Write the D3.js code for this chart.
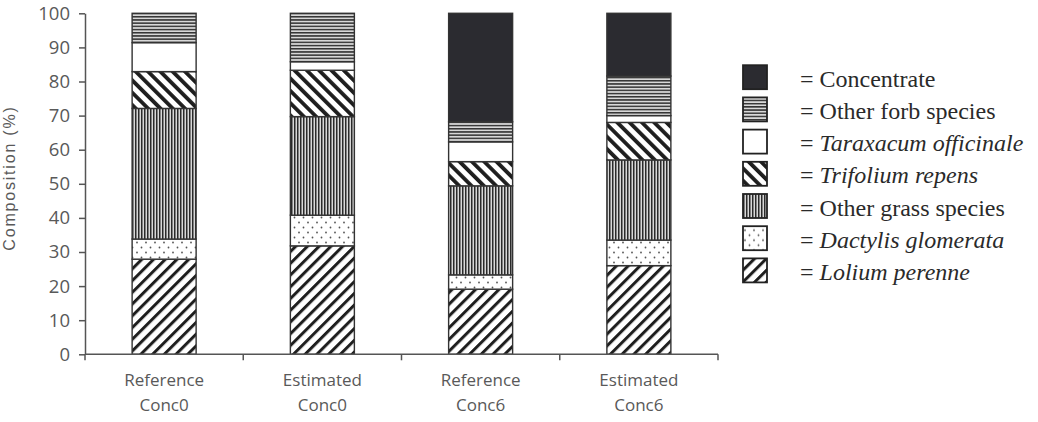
<!DOCTYPE html>
<html>
<head>
<meta charset="utf-8">
<script src="https://cdn.jsdelivr.net/npm/d3@7"></script>
<style>
  body { margin: 0; background: #fff; }
  .tick text { fill: #595959; }
</style>
</head>
<body>
<div id="chart"></div>
<script>
// data
var categories = ["Reference Conc0", "Estimated Conc0", "Reference Conc6", "Estimated Conc6"];
var species = ["Lolium perenne", "Dactylis glomerata", "Other grass species", "Trifolium repens",
  "Taraxacum officinale", "Other forb species", "Concentrate"];
var italicSpecies = ["Lolium perenne", "Dactylis glomerata", "Trifolium repens", "Taraxacum officinale"];
var lolium = [27.9, 31.8, 19.1, 26.0];
var dactylis = [5.9, 9.0, 4.2, 7.5];
var otherGrass = [38.3, 28.9, 26.1, 23.5];
var trifolium = [10.8, 13.6, 7.1, 11.0];
var taraxacum = [8.5, 2.5, 5.8, 2.0];
var otherForb = [8.6, 14.2, 5.9, 11.6];
var concentrate = [0, 0, 31.8, 18.4];
var yTicks = [0, 10, 20, 30, 40, 50, 60, 70, 80, 90, 100];

var seriesValues = [lolium, dactylis, otherGrass, trifolium, taraxacum, otherForb, concentrate];
var patternIds = ["p-lolium", "p-dactylis", "p-grass", "p-trifolium", "p-taraxacum", "p-forb", "p-conc"];

var svgWidth = 1038, svgHeight = 422;
var margin = { top: 13.3, left: 85, bottom: 67.7 };
var plotRight = 718;

var svg = d3.select("#chart").append("svg")
  .attr("width", svgWidth)
  .attr("height", svgHeight);

// patterns
var defs = svg.append("defs");

function stripes(id, angle, period, thick) {
  var p = defs.append("pattern")
    .attr("id", id)
    .attr("patternUnits", "userSpaceOnUse")
    .attr("width", period).attr("height", period)
    .attr("patternTransform", "rotate(" + angle + ")");
  p.append("rect").attr("width", period).attr("height", period).attr("fill", "#fff");
  p.append("rect").attr("width", thick).attr("height", period).attr("fill", "#1e1e1e");
}
stripes("p-lolium", 45, 8.3, 3);
stripes("p-trifolium", -45, 8.7, 3.8);

var pg = defs.append("pattern").attr("id", "p-grass")
  .attr("patternUnits", "userSpaceOnUse").attr("width", 3).attr("height", 10);
pg.append("rect").attr("width", 3).attr("height", 10).attr("fill", "#d8d8d8");
pg.append("rect").attr("width", 1.5).attr("height", 10).attr("fill", "#2a2a2a");

var pf = defs.append("pattern").attr("id", "p-forb")
  .attr("patternUnits", "userSpaceOnUse").attr("width", 10).attr("height", 3.2);
pf.append("rect").attr("width", 10).attr("height", 3.2).attr("fill", "#d8d8d8");
pf.append("rect").attr("width", 10).attr("height", 1.5).attr("fill", "#333");

var pd = defs.append("pattern").attr("id", "p-dactylis")
  .attr("patternUnits", "userSpaceOnUse").attr("width", 9).attr("height", 10);
pd.append("rect").attr("width", 9).attr("height", 10).attr("fill", "#fff");
pd.append("circle").attr("cx", 2).attr("cy", 2.5).attr("r", 0.9).attr("fill", "#555");
pd.append("circle").attr("cx", 6.5).attr("cy", 7.5).attr("r", 0.9).attr("fill", "#555");

defs.append("pattern").attr("id", "p-taraxacum")
  .attr("patternUnits", "userSpaceOnUse").attr("width", 4).attr("height", 4)
  .append("rect").attr("width", 4).attr("height", 4).attr("fill", "#fff");
defs.append("pattern").attr("id", "p-conc")
  .attr("patternUnits", "userSpaceOnUse").attr("width", 4).attr("height", 4)
  .append("rect").attr("width", 4).attr("height", 4).attr("fill", "#2b2b30");

// scales
var xScale = d3.scaleBand().domain(categories).range([margin.left, plotRight]).padding(0);
var yScale = d3.scaleLinear().domain([0, 100]).range([svgHeight - margin.bottom, margin.top]);
var barWidth = 64;

// stacked data
var table = categories.map(function(c, i) {
  var row = { cat: c };
  species.forEach(function(s, k) { row[s] = seriesValues[k][i]; });
  return row;
});
var stacked = d3.stack().keys(species)(table);

var layers = svg.append("g").selectAll("g")
  .data(stacked)
  .enter().append("g")
  .attr("fill", function(d, k) { return "url(#" + patternIds[k] + ")"; });

layers.selectAll("rect")
  .data(function(d) { return d.filter(function(v) { return v[1] - v[0] > 0; }); })
  .enter().append("rect")
  .attr("x", function(d) { return xScale(d.data.cat) + (xScale.bandwidth() - barWidth) / 2; })
  .attr("y", function(d) { return yScale(d[1]); })
  .attr("width", barWidth)
  .attr("height", function(d) { return yScale(d[0]) - yScale(d[1]); })
  .attr("stroke", "#333")
  .attr("stroke-width", 1.4);

// y axis
var yAxis = svg.append("g")
  .attr("transform", "translate(" + margin.left + ",0)")
  .call(d3.axisLeft(yScale).tickValues(yTicks).tickSizeInner(6).tickSizeOuter(0).tickPadding(9));
yAxis.selectAll("text").style("font-family", "'Open Sans'").style("font-size", "18.5px");
yAxis.select(".domain").attr("stroke", "#555").attr("stroke-width", 1.5);
yAxis.selectAll(".tick line").attr("stroke", "#555").attr("stroke-width", 1.5);

// x axis: ticks at category boundaries
var xAxisG = svg.append("g")
  .attr("transform", "translate(0," + yScale(0) + ")");
xAxisG.append("line")
  .attr("x1", margin.left).attr("x2", plotRight)
  .attr("stroke", "#555").attr("stroke-width", 1.5);
var bounds = categories.map(function(c) { return xScale(c); }).concat([plotRight]);
xAxisG.selectAll(".bound").data(bounds).enter().append("line")
  .attr("class", "bound")
  .attr("x1", function(d) { return d; }).attr("x2", function(d) { return d; })
  .attr("y1", 0).attr("y2", 6)
  .attr("stroke", "#555").attr("stroke-width", 1.5);

var xLabels = xAxisG.selectAll(".xlab").data(categories).enter().append("text")
  .attr("class", "xlab")
  .attr("text-anchor", "middle")
  .attr("fill", "#595959")
  .style("font-family", "'Open Sans'")
  .style("font-size", "17px");
xLabels.each(function(c) {
  var parts = c.split(" ");
  var t = d3.select(this);
  var cx = xScale(c) + xScale.bandwidth() / 2;
  t.append("tspan").attr("x", cx).attr("y", 32).text(parts[0]);
  t.append("tspan").attr("x", cx).attr("y", 57).text(parts[1]);
});

// y title
svg.append("text")
  .attr("transform", "translate(15,178) rotate(-90)")
  .attr("text-anchor", "middle")
  .attr("fill", "#595959")
  .style("font-family", "'Liberation Sans'")
  .style("font-size", "16px")
  .style("letter-spacing", "1.8px")
  .text("Composition (%)");

// legend, top item is Concentrate
var legendOrder = species.slice().reverse();
var legend = svg.append("g").selectAll("g")
  .data(legendOrder)
  .enter().append("g")
  .attr("transform", function(d, i) { return "translate(743," + (86.7 + i * 32.2) + ")"; });

legend.append("rect")
  .attr("x", 0).attr("y", -21.5)
  .attr("width", 24).attr("height", 24)
  .attr("fill", function(d) { return "url(#" + patternIds[species.indexOf(d)] + ")"; })
  .attr("stroke", "#222").attr("stroke-width", 1.8);

var lt = legend.append("text")
  .attr("x", 57)
  .attr("fill", "#2a2a2a")
  .style("font-family", "'Liberation Serif'")
  .style("font-size", "24px");
lt.append("tspan").text("= ");
lt.append("tspan")
  .style("font-style", function(d) { return italicSpecies.indexOf(d) >= 0 ? "italic" : "normal"; })
  .text(function(d) { return d; });
</script>
</body>
</html>
